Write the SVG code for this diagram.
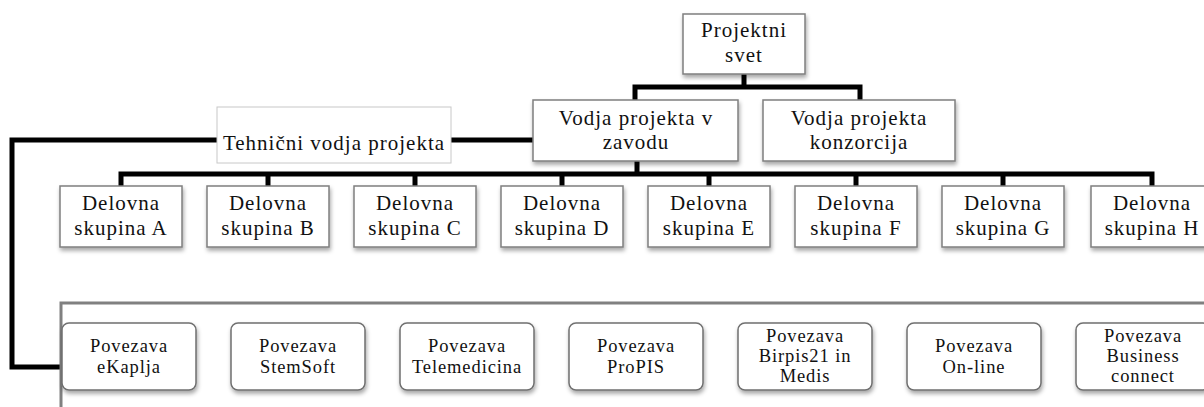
<svg xmlns="http://www.w3.org/2000/svg" width="1204" height="407" viewBox="0 0 1204 407">
<defs>
<filter id="sh" x="-10%" y="-10%" width="130%" height="140%">
<feDropShadow dx="1" dy="3" stdDeviation="2" flood-color="#000" flood-opacity="0.35"/>
</filter>
<style>
.box{fill:#fff;stroke:#7f7f7f;stroke-width:1.5;filter:url(#sh)}
.rbox{fill:#fff;stroke:#6f6f6f;stroke-width:1.5;filter:url(#sh)}
.tbox{fill:#fff;stroke:#c8c8c8;stroke-width:1}
.t{font-family:"Liberation Serif","Times New Roman",serif;font-size:21px;letter-spacing:1px;fill:#111;text-anchor:middle}
.s{font-family:"Liberation Serif","Times New Roman",serif;font-size:18.5px;letter-spacing:0.9px;fill:#111;text-anchor:middle}
.c{fill:none;stroke:#000;stroke-width:5;stroke-linejoin:miter}
.frame{fill:none;stroke:#808080;stroke-width:3}
</style>
</defs>
<rect width="1204" height="407" fill="#fff"/>
<g id="connectors">
<path class="c" d="M744 74V87M635 100V87H860V100"/>
<path class="c" d="M637 161V174M121 186V174H1152V186M268 174V186M415 174V186M562 174V186M709 174V186M856 174V186M1003 174V186"/>
<path class="c" d="M451 140H533"/>
<path class="c" d="M217 140H12V367H62"/>
</g>
<g id="frame"><path class="frame" d="M1204 303H61V407"/></g>
<g id="projektni-svet"><rect class="box" x="683" y="14" width="122" height="60"/><text class="t" x="744" y="37">Projektni</text><text class="t" x="744" y="62">svet</text></g>
<g id="vodja-zavod"><rect class="box" x="533" y="100" width="205" height="61"/><text class="t" x="636" y="125">Vodja projekta v</text><text class="t" x="636" y="149">zavodu</text></g>
<g id="vodja-konzorcij"><rect class="box" x="763" y="100" width="192" height="61"/><text class="t" x="859" y="125">Vodja projekta</text><text class="t" x="859" y="149">konzorcija</text></g>
<g id="tehnicni"><rect class="tbox" x="217" y="107" width="234" height="56"/><text class="t" x="334" y="150">Tehnični vodja projekta</text></g>
<g id="ds-a"><rect class="box" x="60" y="186" width="122" height="61"/><text class="t" x="121" y="210">Delovna</text><text class="t" x="121" y="235">skupina A</text></g>
<g id="ds-b"><rect class="box" x="207" y="186" width="122" height="61"/><text class="t" x="268" y="210">Delovna</text><text class="t" x="268" y="235">skupina B</text></g>
<g id="ds-c"><rect class="box" x="354" y="186" width="122" height="61"/><text class="t" x="415" y="210">Delovna</text><text class="t" x="415" y="235">skupina C</text></g>
<g id="ds-d"><rect class="box" x="501" y="186" width="122" height="61"/><text class="t" x="562" y="210">Delovna</text><text class="t" x="562" y="235">skupina D</text></g>
<g id="ds-e"><rect class="box" x="648" y="186" width="122" height="61"/><text class="t" x="709" y="210">Delovna</text><text class="t" x="709" y="235">skupina E</text></g>
<g id="ds-f"><rect class="box" x="795" y="186" width="122" height="61"/><text class="t" x="856" y="210">Delovna</text><text class="t" x="856" y="235">skupina F</text></g>
<g id="ds-g"><rect class="box" x="942" y="186" width="122" height="61"/><text class="t" x="1003" y="210">Delovna</text><text class="t" x="1003" y="235">skupina G</text></g>
<g id="ds-h"><rect class="box" x="1091" y="186" width="122" height="61"/><text class="t" x="1152" y="210">Delovna</text><text class="t" x="1152" y="235">skupina H</text></g>
<g id="p-ekaplja"><rect class="rbox" x="62" y="323" width="134" height="67" rx="7"/><text class="s" x="129" y="352">Povezava</text><text class="s" x="129" y="373">eKaplja</text></g>
<g id="p-stemsoft"><rect class="rbox" x="231" y="323" width="134" height="67" rx="7"/><text class="s" x="298" y="352">Povezava</text><text class="s" x="298" y="373">StemSoft</text></g>
<g id="p-telemedicina"><rect class="rbox" x="400" y="323" width="134" height="67" rx="7"/><text class="s" x="467" y="352">Povezava</text><text class="s" x="467" y="373">Telemedicina</text></g>
<g id="p-propis"><rect class="rbox" x="569" y="323" width="134" height="67" rx="7"/><text class="s" x="636" y="352">Povezava</text><text class="s" x="636" y="373">ProPIS</text></g>
<g id="p-birpis"><rect class="rbox" x="738" y="323" width="134" height="67" rx="7"/><text class="s" x="805" y="342">Povezava</text><text class="s" x="805" y="362">Birpis21 in</text><text class="s" x="805" y="382">Medis</text></g>
<g id="p-online"><rect class="rbox" x="907" y="323" width="134" height="67" rx="7"/><text class="s" x="974" y="352">Povezava</text><text class="s" x="974" y="373">On-line</text></g>
<g id="p-business"><rect class="rbox" x="1076" y="323" width="134" height="67" rx="7"/><text class="s" x="1143" y="342">Povezava</text><text class="s" x="1143" y="362">Business</text><text class="s" x="1143" y="382">connect</text></g>
</svg>
